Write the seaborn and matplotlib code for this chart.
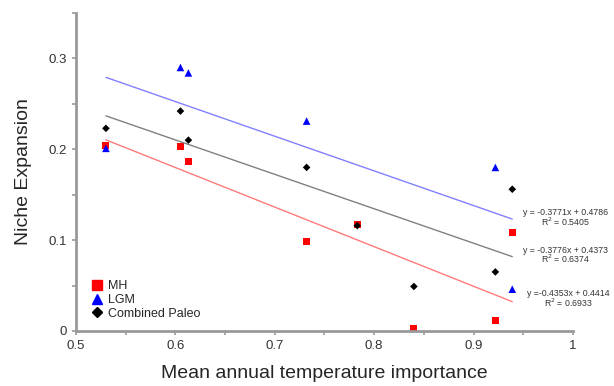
import pandas as pd
import matplotlib
matplotlib.use('Agg')
import matplotlib.pyplot as plt
from matplotlib.ticker import MultipleLocator, FuncFormatter
from matplotlib.lines import Line2D
import seaborn as sns

# values
mh_x = [0.530, 0.605, 0.613, 0.732, 0.783, 0.840, 0.922, 0.939]
mh_y = [0.204, 0.203, 0.187, 0.098, 0.117, 0.003, 0.012, 0.108]
lgm_x = [0.530, 0.605, 0.613, 0.732, 0.922, 0.939]
lgm_y = [0.201, 0.290, 0.284, 0.231, 0.180, 0.046]
comb_x = [0.530, 0.605, 0.613, 0.732, 0.783, 0.840, 0.922, 0.939]
comb_y = [0.223, 0.242, 0.210, 0.180, 0.116, 0.049, 0.065, 0.156]

groups = ['MH', 'LGM', 'Combined Paleo']
equations = ['y =-0.4353x + 0.4414\nR$^2$ = 0.6933',
             'y = -0.3771x + 0.4786\nR$^2$ = 0.5405',
             'y = -0.3776x + 0.4373\nR$^2$ = 0.6374']

df = pd.concat([
    pd.DataFrame({'group': 'MH', 'x': mh_x, 'y': mh_y}),
    pd.DataFrame({'group': 'LGM', 'x': lgm_x, 'y': lgm_y}),
    pd.DataFrame({'group': 'Combined Paleo', 'x': comb_x, 'y': comb_y}),
])

point_colors = {'MH': '#ff0000', 'LGM': '#0000ff', 'Combined Paleo': '#000000'}
line_colors = {'MH': '#ff7a7a', 'LGM': '#8080ff', 'Combined Paleo': '#808080'}
markers = {'MH': 's', 'LGM': '^', 'Combined Paleo': 'D'}
sizes = {'MH': 26, 'LGM': 30, 'Combined Paleo': 15}

sns.set_style('white')
plt.rcParams['font.family'] = ['Liberation Sans', 'DejaVu Sans']

fig = plt.figure(figsize=(6.14, 3.86), dpi=100)
ax = fig.add_axes([0.124, 0.1425, 0.809, 0.824])

# regression lines first, points on top
for g in groups:
    sub = df[df['group'] == g]
    sns.regplot(data=sub, x='x', y='y', ax=ax, scatter=False, ci=None,
                color=line_colors[g], line_kws={'linewidth': 1})

for g in groups:
    sub = df[df['group'] == g]
    sns.scatterplot(data=sub, x='x', y='y', color=point_colors[g],
                    marker=markers[g], s=sizes[g], edgecolor='none',
                    ax=ax, legend=False)

# equation labels at right
eq_kw = dict(fontsize=6.3, ha='center', va='center', color='#333333',
             linespacing=0.85, clip_on=False)
ax.text(0.9925, 0.124, equations[1], **eq_kw)
ax.text(0.9925, 0.083, equations[2], **eq_kw)
ax.text(0.9955, 0.035, equations[0], **eq_kw)

ax.set_xlim(0.5, 1.0)
ax.set_ylim(0, 0.35)
ax.xaxis.set_major_locator(MultipleLocator(0.1))
ax.xaxis.set_minor_locator(MultipleLocator(0.05))
ax.yaxis.set_major_locator(MultipleLocator(0.1))
ax.yaxis.set_minor_locator(MultipleLocator(0.05))
fmt = FuncFormatter(lambda v, p: f'{round(v, 2):g}')
ax.xaxis.set_major_formatter(fmt)
ax.yaxis.set_major_formatter(fmt)
ax.tick_params(which='both', direction='out', length=3, width=1.2,
               color='#999999', labelsize=9.5, labelcolor='#333333',
               bottom=True, left=True)

for side in ['top', 'right']:
    ax.spines[side].set_visible(False)
for side in ['left', 'bottom']:
    ax.spines[side].set_color('#999999')
    ax.spines[side].set_linewidth(2)

ax.set_xlabel('Mean annual temperature importance', fontsize=14, labelpad=9)
ax.set_ylabel('Niche Expansion', fontsize=14, labelpad=12)

handles = [Line2D([], [], linestyle='none', marker=markers[g],
                  color=point_colors[g],
                  markersize={'MH': 6.5, 'LGM': 7.5, 'Combined Paleo': 5}[g])
           for g in groups]
ax.legend(handles, groups, loc='lower left', bbox_to_anchor=(0.03, 0.035),
          frameon=False, fontsize=9, handletextpad=0.35, handlelength=1.0,
          labelspacing=0.15, borderaxespad=0, borderpad=0)

fig.savefig('out.png', dpi=100)
